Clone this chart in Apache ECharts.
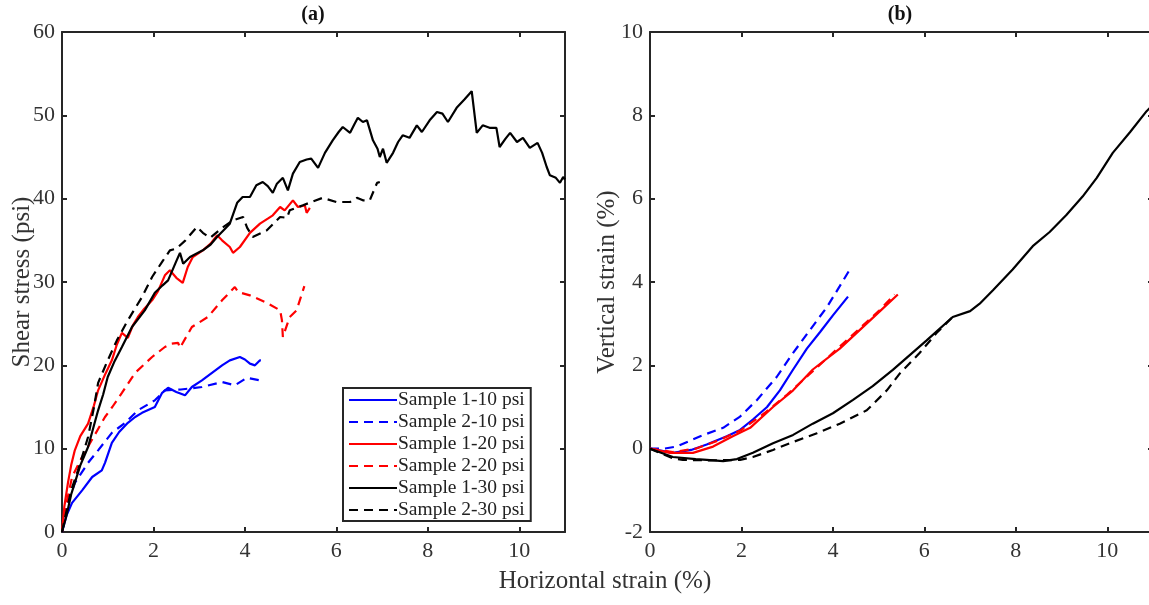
<!DOCTYPE html>
<html><head><meta charset="utf-8">
<script src="https://cdn.jsdelivr.net/npm/echarts@6/dist/echarts.min.js"></script>
<style>html,body{margin:0;padding:0;background:#fff}#c{width:1149px;height:605px}</style>
</head><body><div id="c"></div>
<script>
// ---- data (x = horizontal strain %, y = shear stress psi / vertical strain %) ----
const names = ['Sample 1-10 psi','Sample 2-10 psi','Sample 1-20 psi','Sample 2-20 psi','Sample 1-30 psi','Sample 2-30 psi'];
const colors = ['#0000ff','#0000ff','#ff0000','#ff0000','#000000','#000000'];
const dashed = [false,true,false,true,false,true];

const shear_1_10 = [[0,0],[0.1,2],[0.22,3.5],[0.44,5],[0.66,6.6],[0.87,7.4],[0.94,8.3],[1.09,10.7],[1.25,12],[1.44,13.1],[1.6,13.8],[1.75,14.3],[2.03,15],[2.19,16.7],[2.32,17.3],[2.5,16.8],[2.69,16.4],[2.84,17.4],[3.06,18.2],[3.28,19.1],[3.5,20],[3.67,20.6],[3.89,21],[4.0,20.7],[4.11,20.2],[4.22,20],[4.33,20.6],[4.35,20.6]];
const shear_2_10 = [[0,0],[0.1,3],[0.28,5.9],[0.57,8.3],[0.79,9.8],[1.09,11.9],[1.38,13.1],[1.66,14.6],[2.03,15.8],[2.25,17],[2.6,17.1],[3.06,17.4],[3.5,18],[3.78,17.6],[4.04,18.5],[4.33,18.2],[4.37,18.2]];
const shear_1_20 = [[0,0],[0.05,3],[0.13,5.9],[0.2,8],[0.28,9.8],[0.4,11.5],[0.57,13],[0.7,15.2],[0.79,17],[0.95,19],[1.09,20.6],[1.2,22.5],[1.31,23.9],[1.44,23.3],[1.55,24.8],[1.66,25.8],[1.8,26.8],[1.97,27.8],[2.1,28.9],[2.25,30.8],[2.36,31.4],[2.5,30.5],[2.64,29.9],[2.75,31.8],[2.86,33],[3.08,33.8],[3.25,34.6],[3.39,35.6],[3.5,35],[3.67,34.2],[3.74,33.5],[3.89,34.2],[4.11,35.9],[4.33,37],[4.5,37.6],[4.61,38],[4.77,39],[4.87,38.6],[5.05,39.8],[5.16,39],[5.31,39.2],[5.35,38.3],[5.42,38.9]];
const shear_2_20 = [[0,0],[0.1,3.5],[0.22,6.6],[0.44,9],[0.7,11.5],[0.94,13.8],[1.1,15],[1.31,16.7],[1.6,19.1],[1.97,21],[2.25,22.2],[2.4,22.6],[2.54,22.7],[2.58,22.1],[2.84,24.6],[3.19,25.8],[3.5,27.8],[3.78,29.4],[3.85,28.8],[4.11,28.4],[4.48,27.5],[4.77,26.6],[4.81,25.4],[4.83,23.4],[4.98,25.8],[5.13,26.6],[5.27,29],[5.3,29.5]];
const shear_1_30 = [[0,0],[0.1,2],[0.2,4.5],[0.28,5.9],[0.4,8],[0.57,10.2],[0.7,12.8],[0.79,14.6],[0.9,16.5],[1.0,18.6],[1.15,20.5],[1.31,22.2],[1.53,24.6],[1.81,26.6],[2.03,28.7],[2.2,29.6],[2.32,30.2],[2.5,32.5],[2.58,33.5],[2.65,32.2],[2.8,33],[3.08,33.8],[3.25,34.5],[3.39,35.4],[3.55,36.3],[3.67,37],[3.83,39.5],[3.95,40.2],[4.11,40.2],[4.25,41.6],[4.39,42],[4.5,41.5],[4.61,40.7],[4.7,41.8],[4.83,42.5],[4.94,41],[5.05,43],[5.2,44.4],[5.35,44.7],[5.45,44.8],[5.6,43.7],[5.75,45.5],[5.92,47],[6.05,48],[6.14,48.6],[6.3,47.9],[6.4,49],[6.47,49.7],[6.58,49.2],[6.67,49.4],[6.8,47],[6.9,46],[6.95,45],[7.02,46],[7.1,44.3],[7.24,45.5],[7.35,46.8],[7.45,47.6],[7.6,47.3],[7.76,48.8],[7.87,48],[8.04,49.4],[8.2,50.4],[8.32,50.2],[8.44,49.2],[8.63,50.9],[8.8,51.9],[8.96,52.9],[9.07,47.9],[9.2,48.8],[9.35,48.5],[9.5,48.5],[9.57,46.2],[9.7,47.2],[9.8,47.9],[9.95,46.8],[10.08,47.3],[10.23,46.1],[10.4,46.7],[10.5,45.5],[10.6,43.8],[10.67,42.8],[10.8,42.5],[10.89,41.9],[10.96,42.6],[11,42.3]];
const shear_2_30 = [[0,0],[0.07,1.8],[0.2,5],[0.35,7.4],[0.57,11.4],[0.7,15],[0.79,17.9],[1.0,20.6],[1.2,23],[1.44,25.4],[1.75,28.2],[1.97,30.6],[2.2,32.5],[2.36,33.8],[2.5,34],[2.7,35],[2.95,36.6],[3.08,35.9],[3.24,35.3],[3.5,36.5],[3.74,37.4],[3.96,37.8],[4.05,36.5],[4.17,35.4],[4.48,36.2],[4.77,37.8],[4.92,37.7],[4.98,38.6],[5.27,39.2],[5.5,39.7],[5.7,40.1],[6.0,39.6],[6.3,39.6],[6.45,40.1],[6.58,39.8],[6.73,39.8],[6.89,41.9],[6.95,42]];

const vert_1_10 = [[0,0],[0.5,-0.1],[0.9,-0.03],[1.24,0.1],[1.68,0.3],[1.97,0.45],[2.25,0.7],[2.56,1.0],[2.84,1.4],[3.13,1.9],[3.43,2.4],[3.72,2.8],[4.0,3.2],[4.33,3.65]];
const vert_2_10 = [[0,0],[0.3,0],[0.58,0.05],[1.1,0.3],[1.6,0.5],[1.97,0.77],[2.34,1.17],[2.77,1.72],[3.13,2.3],[3.5,2.85],[3.87,3.4],[4.15,3.9],[4.37,4.3]];
const vert_1_20 = [[0,0],[0.44,-0.1],[0.94,-0.1],[1.38,0.05],[1.81,0.3],[2.19,0.5],[2.69,1.0],[3.13,1.4],[3.56,1.9],[4.15,2.4],[4.59,2.85],[5.03,3.3],[5.42,3.7]];
const vert_2_20 = [[0,0],[0.5,-0.08],[1.0,0.0],[1.5,0.2],[2.0,0.45],[2.5,0.85],[3,1.3],[3.5,1.8],[4,2.3],[4.5,2.8],[5,3.3],[5.35,3.7]];
const vert_1_30 = [[0,0],[0.5,-0.2],[1.0,-0.25],[1.24,-0.27],[1.6,-0.3],[1.9,-0.25],[2.25,-0.1],[2.69,0.13],[3.13,0.33],[3.56,0.6],[4.0,0.85],[4.44,1.17],[4.87,1.5],[5.31,1.89],[6.05,2.6],[6.62,3.16],[7.0,3.3],[7.21,3.48],[7.5,3.8],[7.93,4.3],[8.37,4.86],[8.74,5.2],[9.1,5.6],[9.46,6.05],[9.77,6.5],[10.12,7.1],[10.5,7.6],[10.86,8.1],[11,8.25]];
const vert_2_30 = [[0,0],[0.5,-0.23],[0.72,-0.27],[1.3,-0.28],[1.97,-0.27],[2.25,-0.2],[2.69,-0.03],[3.13,0.16],[3.65,0.37],[4.15,0.6],[4.74,0.92],[5.18,1.4],[5.46,1.8],[5.9,2.3],[6.27,2.78],[6.62,3.16],[6.7,3.2]];

const shearSets = [shear_1_10, shear_2_10, shear_1_20, shear_2_20, shear_1_30, shear_2_30];
const vertSets = [vert_1_10, vert_2_10, vert_1_20, vert_2_20, vert_1_30, vert_2_30];

const xTicks = {min: 0, max: 11, interval: 2};
const yTicksA = {min: 0, max: 60, interval: 10};
const yTicksB = {min: -2, max: 10, interval: 2};

// ---- styling ----
const FONT = '"Liberation Serif","Times New Roman",serif';
const AX = '#262626';
function axisBase(extra) {
  return Object.assign({
    type: 'value',
    axisLine: {show: true, onZero: false, lineStyle: {color: AX, width: 2}},
    axisTick: {show: true, inside: true, length: 5, lineStyle: {color: AX, width: 2}},
    splitLine: {show: false},
    axisLabel: {color: '#333', fontFamily: FONT, fontSize: 22, margin: 8}
  }, extra);
}
const xAxes = [], yAxes = [];
[0, 1].forEach(g => {
  const xb = axisBase(Object.assign({gridIndex: g, position: 'bottom'}, xTicks));
  xb.axisLabel.showMaxLabel = false;
  xb.axisLabel.formatter = v => (v % 2 === 0 ? String(v) : '');
  xAxes.push(xb);
  xAxes.push(axisBase(Object.assign({gridIndex: g, position: 'top', axisLabel: {show: false}}, xTicks)));
  const yt = g === 0 ? yTicksA : yTicksB;
  yAxes.push(axisBase(Object.assign({gridIndex: g, position: 'left'}, yt)));
  yAxes.push(axisBase(Object.assign({gridIndex: g, position: 'right', axisLabel: {show: false}}, yt)));
});
yAxes[0].axisLabel.margin = 7;
yAxes[2].axisLabel.margin = 7;

const series = [];
names.forEach((n, i) => {
  const ls = {color: colors[i], width: 2.2, type: dashed[i] ? [9, 6] : 'solid'};
  series.push({name: n, type: 'line', xAxisIndex: 0, yAxisIndex: 0, data: shearSets[i], symbol: 'none', lineStyle: ls, itemStyle: {color: colors[i]}, animation: false});
  series.push({name: n, type: 'line', xAxisIndex: 2, yAxisIndex: 2, data: vertSets[i], symbol: 'none', lineStyle: ls, itemStyle: {color: colors[i]}, animation: false});
});

const chart = echarts.init(document.getElementById('c'), null, {renderer: 'canvas'});
chart.setOption({
  animation: false,
  backgroundColor: '#fff',
  grid: [
    {left: 62, top: 32, width: 503, height: 500, containLabel: false, outerBoundsMode: 'none'},
    {left: 650, top: 32, width: 503, height: 500, containLabel: false, outerBoundsMode: 'none'}
  ],
  xAxis: xAxes,
  yAxis: yAxes,
  legend: {
    data: names,
    orient: 'vertical',
    left: 343, top: 388,
    backgroundColor: '#fff',
    borderColor: AX, borderWidth: 2, borderRadius: 0,
    padding: [2, 6, 1, 5],
    itemGap: 2,
    itemWidth: 48, itemHeight: 20,
    selectedMode: false,
    itemStyle: {color: 'rgba(0,0,0,0)', borderWidth: 0, opacity: 0},
    textStyle: {fontFamily: FONT, fontSize: 19.5, color: '#222', padding: [0, 0, 0, -4]}
  },
  graphic: [
    {type: 'text', x: 313, y: 15, style: {text: '(a)', font: 'bold 20px ' + FONT, fill: '#111', align: 'center', verticalAlign: 'middle'}},
    {type: 'text', x: 900, y: 15, style: {text: '(b)', font: 'bold 20px ' + FONT, fill: '#111', align: 'center', verticalAlign: 'middle'}},
    {type: 'text', x: 22, y: 282, rotation: Math.PI / 2, style: {text: 'Shear stress (psi)', font: '25px ' + FONT, fill: '#333', align: 'center', verticalAlign: 'middle'}},
    {type: 'text', x: 607, y: 282, rotation: Math.PI / 2, style: {text: 'Vertical strain (%)', font: '25px ' + FONT, fill: '#333', align: 'center', verticalAlign: 'middle'}},
    {type: 'text', x: 605, y: 581, style: {text: 'Horizontal strain (%)', font: '25px ' + FONT, fill: '#333', align: 'center', verticalAlign: 'middle'}}
  ],
  series: series
});
</script></body></html>
